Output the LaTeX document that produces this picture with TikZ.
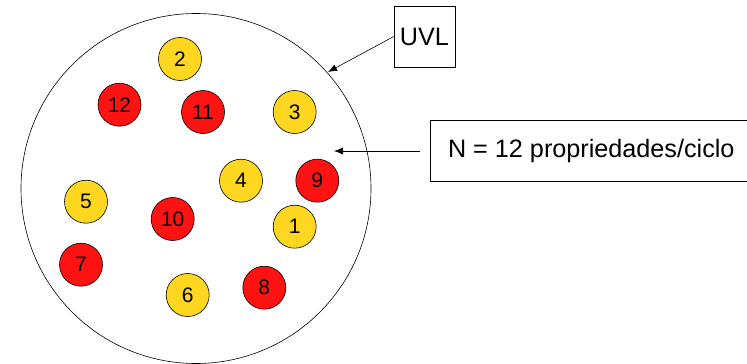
\documentclass[tikz,border=0pt]{standalone}
\usepackage{fontspec}
\setmainfont{Liberation Sans}
\usetikzlibrary{arrows.meta}
\definecolor{cred}{RGB}{255,18,18}
\definecolor{cyel}{RGB}{255,214,32}
\begin{document}
\begin{tikzpicture}[x=1pt,y=-1pt,
  ball/.style={circle,draw=black,line width=0.6pt,minimum size=43pt,inner sep=0pt,font=\fontsize{21}{21}\selectfont},
  rb/.style={ball,fill=cred},
  yb/.style={ball,fill=cyel},
  lbl/.style={draw=black,line width=0.6pt,inner sep=0pt,font=\fontsize{25.2}{25.2}\selectfont},
  arr/.style={line width=0.6pt,-{Latex[length=9pt,width=7pt]}}]
\useasboundingbox (0,0) rectangle (747,364);
\node[circle,draw=black,line width=0.6pt,minimum size=350pt,inner sep=0pt] (big) at (196,188.5) {};
\node[yb] (n2) at (180,59) {2};
\node[rb] (n12) at (119.5,104.7) {12};
\node[rb] (n11) at (203,112) {11};
\node[yb] (n3) at (294.7,112) {3};
\node[yb] (n4) at (241,180.7) {4};
\node[rb] (n9) at (317.3,180.7) {9};
\node[yb] (n5) at (86,201.7) {5};
\node[rb] (n10) at (172.7,219) {10};
\node[yb] (n1) at (294.7,226.7) {1};
\node[rb] (n7) at (81,264.7) {7};
\node[yb] (n6) at (187.7,295) {6};
\node[rb] (n8) at (264.3,287.7) {8};
\node[lbl,minimum width=61pt,minimum height=61pt] (uvl) at (424.5,36.5) {UVL};
\node[lbl,minimum width=317pt,minimum height=60.5pt,anchor=west] (nbox) at (429.5,151) {\hspace*{6pt}N = 12 propriedades/ciclo};
\coordinate (t1) at (328,72);
\coordinate (s2) at (420,151);
\coordinate (t2) at (334,151);
\draw[arr] (uvl.west) -- (t1);
\draw[arr] (s2) -- (t2);
\end{tikzpicture}
\end{document}
